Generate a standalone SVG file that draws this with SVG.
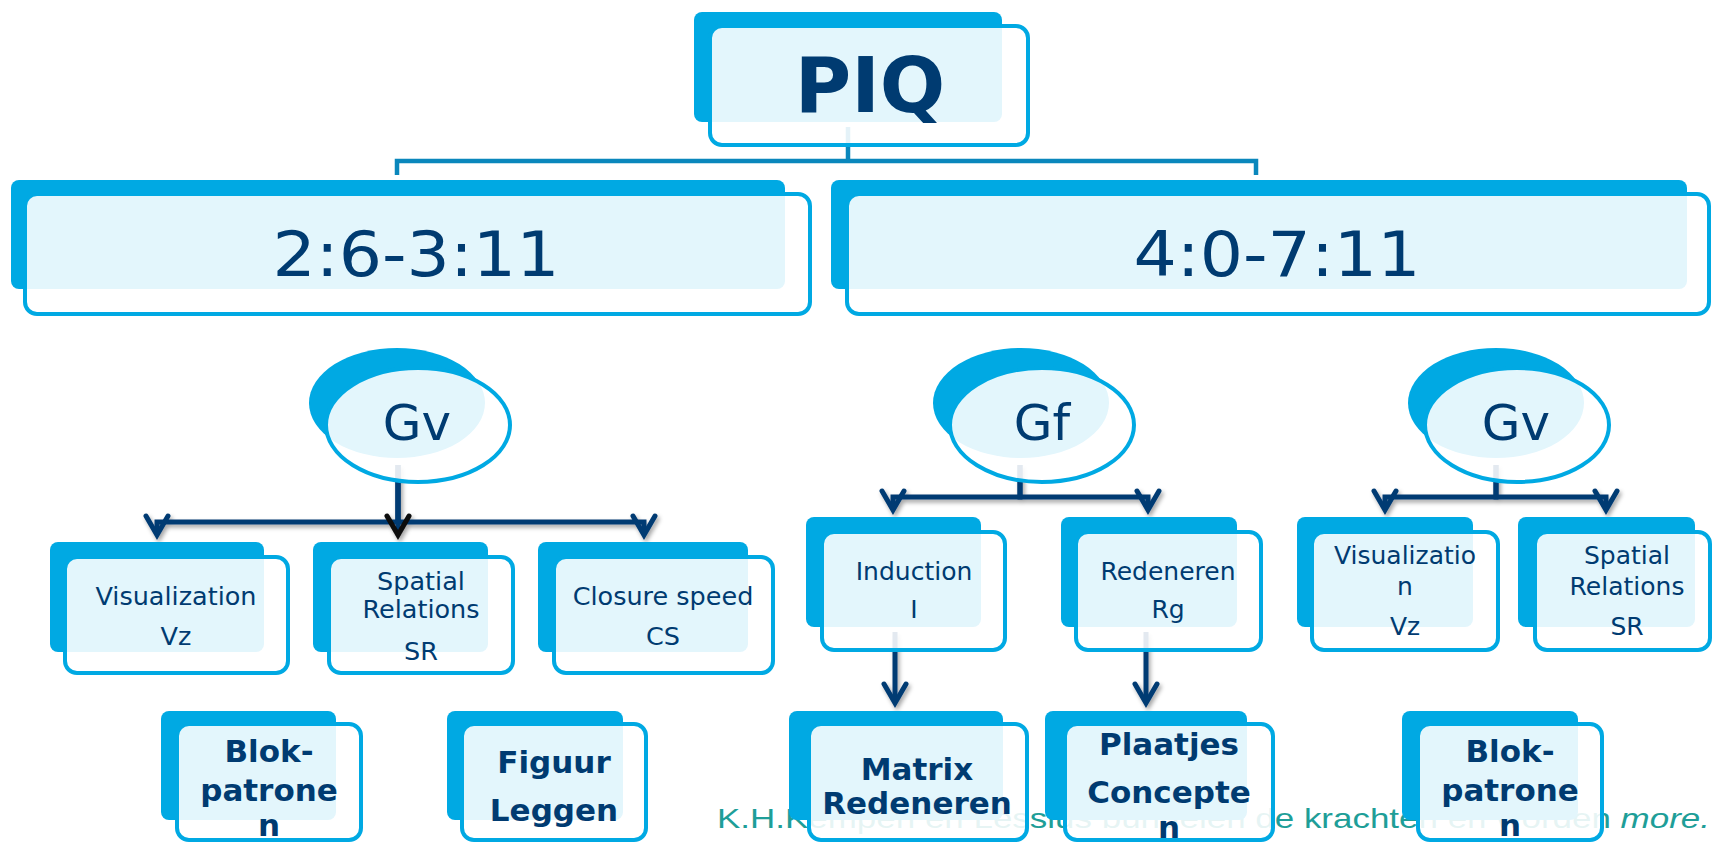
<svg xmlns="http://www.w3.org/2000/svg" width="1713" height="842" viewBox="0 0 1713 842">
  <defs>
    <style>
      .back { fill: #00A9E3; }
      .front { fill: #FFFFFF; fill-opacity: 0.89; stroke: #00A9E3; stroke-width: 4; }
      .t { font-family: "DejaVu Sans", Verdana, sans-serif; fill: #003B71; text-anchor: middle; }
      .b { font-weight: bold; }
      .top-link { stroke: #0A87BC; stroke-width: 4.5; fill: none; }
      .link { stroke: #003B73; stroke-width: 5; fill: none; }
      .footer { font-family: "Liberation Sans", Arial, sans-serif; font-size: 28px; fill: #1E9E98; }
    </style>
    <marker id="arrow" viewBox="-24 -14 30 28" refX="0" refY="0" markerWidth="30" markerHeight="28" markerUnits="userSpaceOnUse" orient="auto">
      <path d="M-19,-11 L0,0 L-19,11" fill="none" stroke="#003B73" stroke-width="5" stroke-linecap="round"/>
    </marker>
    <marker id="arrowDark" viewBox="-24 -14 30 28" refX="0" refY="0" markerWidth="30" markerHeight="28" markerUnits="userSpaceOnUse" orient="auto">
      <path d="M-19,-11 L0,0 L-19,11" fill="none" stroke="#0A0A0A" stroke-width="5" stroke-linecap="round"/>
    </marker>
    <filter id="shadow" filterUnits="userSpaceOnUse" x="0" y="0" width="1713" height="842">
      <feDropShadow dx="2" dy="3" stdDeviation="2" flood-color="#000" flood-opacity="0.35"/>
    </filter>
  </defs>

  <rect width="1713" height="842" fill="#FFFFFF"/>

  <!-- footer line, partly veiled by the boxes drawn above it -->
  <text class="footer" x="717" y="828" textLength="993" lengthAdjust="spacingAndGlyphs">K.H.Kempen en Lessius bundelen de krachten en worden <tspan font-style="italic">more.</tspan></text>

  <!-- connectors -->
  <g id="connectors">
    <path class="top-link" d="M848,127 V161 M397,175 V161 H1256 V175"/>
    <g filter="url(#shadow)">
      <path class="link" d="M398,465 V522 H157 V535" marker-end="url(#arrow)"/>
      <path class="link" d="M398,465 V522 H644 V535" marker-end="url(#arrow)"/>
      <path class="link" d="M398,465 V535" marker-end="url(#arrowDark)"/>
      <path class="link" d="M1020,465 V497 H893 V510" marker-end="url(#arrow)"/>
      <path class="link" d="M1020,465 V497 H1148 V510" marker-end="url(#arrow)"/>
      <path class="link" d="M1496,465 V497 H1385 V510" marker-end="url(#arrow)"/>
      <path class="link" d="M1496,465 V497 H1606 V510" marker-end="url(#arrow)"/>
      <path class="link" d="M895,632 V703" marker-end="url(#arrow)"/>
      <path class="link" d="M1146,632 V703" marker-end="url(#arrow)"/>
    </g>
  </g>

  <!-- root -->
  <g id="piq">
    <rect class="back" x="694" y="12" width="308" height="110" rx="8"/>
    <rect class="front" x="710" y="26" width="318" height="119" rx="12"/>
    <text class="t b" x="870" y="112" font-size="77">PIQ</text>
  </g>

  <!-- age bands -->
  <g id="age-2-3">
    <rect class="back" x="11" y="180" width="774" height="109" rx="8"/>
    <rect class="front" x="25" y="194" width="785" height="120" rx="12"/>
    <text class="t" x="416" y="276" font-size="62" textLength="287" lengthAdjust="spacingAndGlyphs">2:6-3:11</text>
  </g>
  <g id="age-4-7">
    <rect class="back" x="831" y="180" width="856" height="109" rx="8"/>
    <rect class="front" x="847" y="194" width="862" height="120" rx="12"/>
    <text class="t" x="1277" y="276" font-size="62" textLength="287" lengthAdjust="spacingAndGlyphs">4:0-7:11</text>
  </g>

  <!-- broad abilities -->
  <g id="gv-left">
    <ellipse class="back" cx="397" cy="403" rx="88" ry="55"/>
    <ellipse class="front" cx="418" cy="425" rx="92" ry="57"/>
    <text class="t" x="417" y="440" font-size="50">Gv</text>
  </g>
  <g id="gf">
    <ellipse class="back" cx="1021" cy="403" rx="88" ry="55"/>
    <ellipse class="front" cx="1042" cy="425" rx="92" ry="57"/>
    <text class="t" x="1042" y="440" font-size="50">Gf</text>
  </g>
  <g id="gv-right">
    <ellipse class="back" cx="1496" cy="403" rx="88" ry="55"/>
    <ellipse class="front" cx="1517" cy="425" rx="92" ry="57"/>
    <text class="t" x="1516" y="440" font-size="50">Gv</text>
  </g>

  <!-- narrow abilities, younger band -->
  <g id="vz-left">
    <rect class="back" x="50" y="542" width="214" height="110" rx="8"/>
    <rect class="front" x="65" y="557" width="223" height="116" rx="12"/>
    <text class="t" x="176" y="605" font-size="25.5">Visualization</text>
    <text class="t" x="176" y="645" font-size="25.5">Vz</text>
  </g>
  <g id="sr-left">
    <rect class="back" x="313" y="542" width="175" height="110" rx="8"/>
    <rect class="front" x="329" y="557" width="184" height="116" rx="12"/>
    <text class="t" x="421" y="590" font-size="25.5">Spatial</text>
    <text class="t" x="421" y="618" font-size="25.5">Relations</text>
    <text class="t" x="421" y="660" font-size="25.5">SR</text>
  </g>
  <g id="cs">
    <rect class="back" x="538" y="542" width="210" height="110" rx="8"/>
    <rect class="front" x="554" y="557" width="219" height="116" rx="12"/>
    <text class="t" x="663" y="605" font-size="25.5">Closure speed</text>
    <text class="t" x="663" y="645" font-size="25.5">CS</text>
  </g>

  <!-- narrow abilities, older band -->
  <g id="induction">
    <rect class="back" x="806" y="517" width="175" height="110" rx="8"/>
    <rect class="front" x="822" y="532" width="183" height="118" rx="12"/>
    <text class="t" x="914" y="580" font-size="25">Induction</text>
    <text class="t" x="914" y="618" font-size="25">I</text>
  </g>
  <g id="redeneren">
    <rect class="back" x="1061" y="517" width="176" height="110" rx="8"/>
    <rect class="front" x="1076" y="532" width="185" height="118" rx="12"/>
    <text class="t" x="1168" y="580" font-size="25">Redeneren</text>
    <text class="t" x="1168" y="618" font-size="25">Rg</text>
  </g>
  <g id="vz-right">
    <rect class="back" x="1297" y="517" width="176" height="110" rx="8"/>
    <rect class="front" x="1312" y="532" width="186" height="118" rx="12"/>
    <text class="t" x="1405" y="564" font-size="25">Visualizatio</text>
    <text class="t" x="1405" y="595" font-size="25">n</text>
    <text class="t" x="1405" y="635" font-size="25">Vz</text>
  </g>
  <g id="sr-right">
    <rect class="back" x="1518" y="517" width="177" height="110" rx="8"/>
    <rect class="front" x="1535" y="532" width="175" height="118" rx="12"/>
    <text class="t" x="1627" y="564" font-size="25">Spatial</text>
    <text class="t" x="1627" y="595" font-size="25">Relations</text>
    <text class="t" x="1627" y="635" font-size="25">SR</text>
  </g>

  <!-- subtests -->
  <g id="blokpatronen-left">
    <rect class="back" x="161" y="711" width="175" height="109" rx="8"/>
    <rect class="front" x="177" y="724" width="184" height="116" rx="12"/>
    <text class="t b" x="269" y="762" font-size="31">Blok-</text>
    <text class="t b" x="269" y="801" font-size="31">patrone</text>
    <text class="t b" x="269" y="836" font-size="31">n</text>
  </g>
  <g id="figuur-leggen">
    <rect class="back" x="447" y="711" width="176" height="109" rx="8"/>
    <rect class="front" x="462" y="724" width="184" height="116" rx="12"/>
    <text class="t b" x="554" y="773" font-size="31">Figuur</text>
    <text class="t b" x="554" y="821" font-size="31">Leggen</text>
  </g>
  <g id="matrix-redeneren">
    <rect class="back" x="789" y="711" width="214" height="109" rx="8"/>
    <rect class="front" x="809" y="724" width="218" height="116" rx="12"/>
    <text class="t b" x="917" y="780" font-size="31">Matrix</text>
    <text class="t b" x="917" y="814" font-size="31">Redeneren</text>
  </g>
  <g id="plaatjes-concepten">
    <rect class="back" x="1045" y="711" width="202" height="109" rx="8"/>
    <rect class="front" x="1065" y="724" width="208" height="116" rx="12"/>
    <text class="t b" x="1169" y="755" font-size="31">Plaatjes</text>
    <text class="t b" x="1169" y="803" font-size="31">Concepte</text>
    <text class="t b" x="1169" y="838" font-size="31">n</text>
  </g>
  <g id="blokpatronen-right">
    <rect class="back" x="1402" y="711" width="176" height="109" rx="8"/>
    <rect class="front" x="1418" y="724" width="184" height="116" rx="12"/>
    <text class="t b" x="1510" y="762" font-size="31">Blok-</text>
    <text class="t b" x="1510" y="801" font-size="31">patrone</text>
    <text class="t b" x="1510" y="836" font-size="31">n</text>
  </g>
</svg>
